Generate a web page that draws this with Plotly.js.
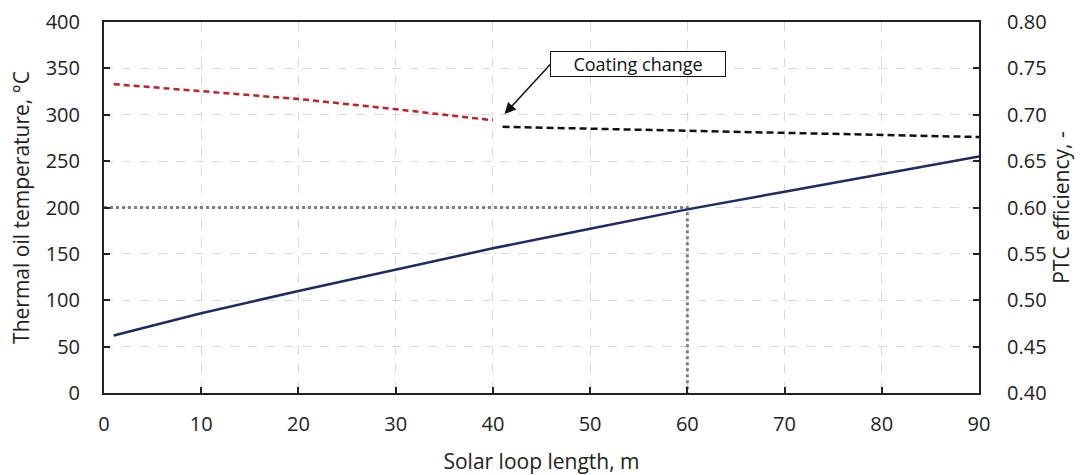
<!DOCTYPE html>
<html><head><meta charset="utf-8">
<script src="https://cdn.plot.ly/plotly-3.0.1.min.js"></script>
<style>html,body{margin:0;padding:0;background:#fff}#chart{width:1083px;height:475px}</style>
</head><body><div id="chart"></div>
<script>
// Thermal oil temperature (left axis)
const tempX = [1, 10, 20, 30, 40, 50, 60, 70, 80, 90];
const tempY = [62, 86, 110, 133, 156, 177, 198, 217, 236, 255];
// PTC efficiency before coating change (right axis)
const effAX = [1, 10, 20, 30, 40];
const effAY = [0.733, 0.7255, 0.717, 0.706, 0.694];
// PTC efficiency after coating change (right axis)
const effBX = [41, 50, 60, 70, 80, 90];
const effBY = [0.687, 0.685, 0.683, 0.681, 0.678, 0.676];
// Guide lines (dotted) at 60 m / 200 °C
const guideX = [0, 60, 60];
const guideY = [200, 200, 0];
// Ticks
const xTicks = [0, 10, 20, 30, 40, 50, 60, 70, 80, 90];
const yTicks = [0, 50, 100, 150, 200, 250, 300, 350, 400];
const y2Ticks = [0.40, 0.45, 0.50, 0.55, 0.60, 0.65, 0.70, 0.75, 0.80];
const annText = 'Coating change';
const annPos = {x: 54.9, y: 354.7};
const arrowHead = {x: 41.2, y: 300.8};

const font = "Open Sans, Liberation Sans, sans-serif";
const traces = [
  {x: guideX, y: guideY, mode: 'lines', line: {color: '#7f7f7f', width: 3, dash: 'dot'}, hoverinfo: 'skip'},
  {x: tempX, y: tempY, mode: 'lines', line: {color: '#1f2a64', width: 2.5}},
  {x: effAX, y: effAY, yaxis: 'y2', mode: 'lines', line: {color: '#c0202a', width: 2.5, dash: '6px,4px'}},
  {x: effBX, y: effBY, yaxis: 'y2', mode: 'lines', line: {color: '#111111', width: 2.5, dash: '7px,4px'}}
];
const axCommon = {
  showline: true, linecolor: '#222', linewidth: 2, mirror: false,
  ticks: 'inside', ticklen: 6, tickwidth: 2, tickcolor: '#222',
  showgrid: true, gridcolor: '#d9d9d9', griddash: 'dash', gridwidth: 1,
  zeroline: false, tickfont: {family: font, size: 20, color: '#222'}
};
const titleFont = {family: font, size: 21, color: '#222'};
const layout = {
  width: 1083, height: 475,
  margin: {l: 104, r: 104, t: 22, b: 82},
  paper_bgcolor: '#fff', plot_bgcolor: '#fff',
  showlegend: false,
  xaxis: Object.assign({}, axCommon, {range: [0, 90], tickvals: xTicks, mirror: true,
    ticklabelstandoff: 12,
    title: {text: 'Solar loop length, m', font: titleFont, standoff: 18}}),
  yaxis: Object.assign({}, axCommon, {range: [0, 400], tickvals: yTicks, ticklabelstandoff: 18,
    title: {text: 'Thermal oil temperature, °C', font: titleFont, standoff: 10}}),
  yaxis2: Object.assign({}, axCommon, {range: [0.40, 0.80], tickvals: y2Ticks, overlaying: 'y', side: 'right',
    showgrid: false, tickformat: '.2f', ticklabelstandoff: 22,
    title: {text: 'PTC efficiency, -', font: titleFont, standoff: 4}}),
  annotations: [
    {x: annPos.x, y: annPos.y, xref: 'x', yref: 'y', text: annText, showarrow: false,
     font: {family: font, size: 18, color: '#111'}, bgcolor: '#fff', bordercolor: '#111', borderwidth: 1,
     width: 172, height: 22},
    {x: arrowHead.x, y: arrowHead.y, xref: 'x', yref: 'y', text: '', showarrow: true,
     ax: 47, ay: -51, arrowhead: 2, arrowsize: 1.5, arrowwidth: 1.5, arrowcolor: '#111'}
  ]
};
Plotly.newPlot('chart', traces, layout, {displayModeBar: false, staticPlot: true});
</script></body></html>
